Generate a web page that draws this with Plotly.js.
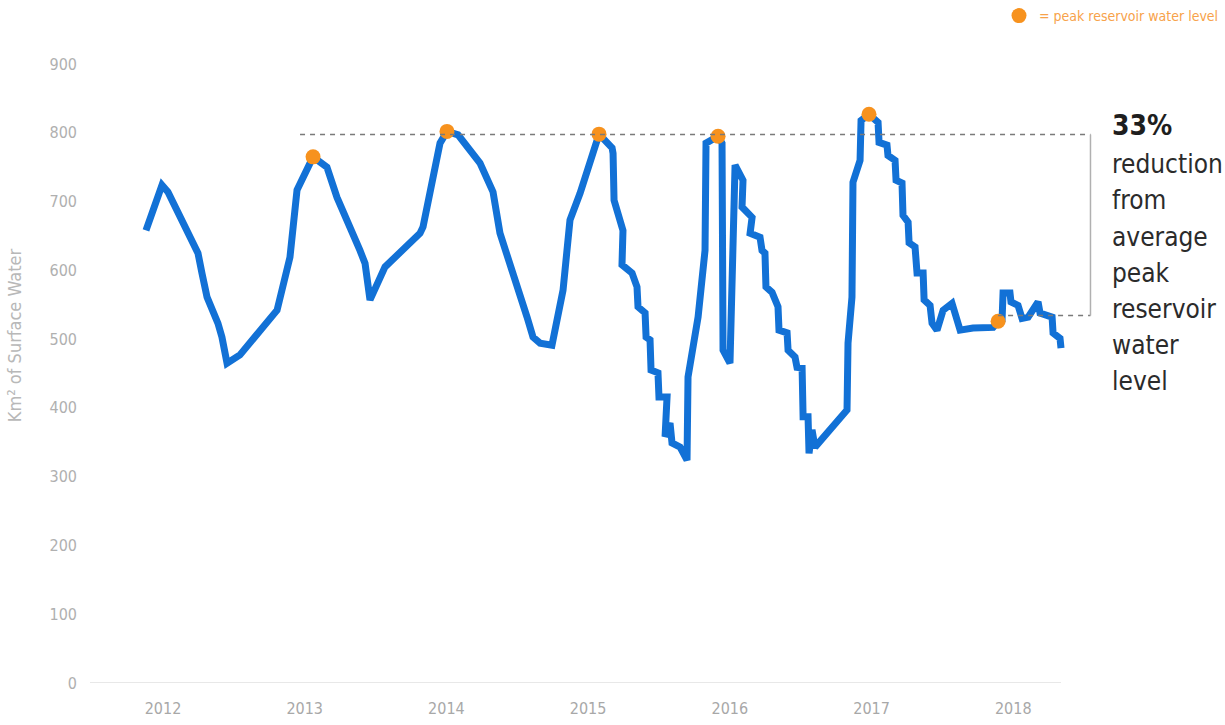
<!DOCTYPE html>
<html>
<head>
<meta charset="utf-8">
<script src="https://cdn.plot.ly/plotly-3.0.1.min.js"></script>
<style>
  html, body { margin: 0; padding: 0; background: #fff; }
  #chart { width: 1225px; height: 725px; }
</style>
</head>
<body>
<div id="chart"></div>
<script>
// Reservoir surface water, decimal years vs km²
const years = [
  2011.880, 2011.993, 2012.035, 2012.176, 2012.247, 2012.275, 2012.311, 2012.388, 2012.416, 2012.452,
  2012.543, 2012.805, 2012.896, 2012.946, 2012.988, 2013.059, 2013.157, 2013.228, 2013.390, 2013.426,
  2013.461, 2013.567, 2013.814, 2013.835, 2013.955, 2014.004, 2014.082, 2014.237, 2014.329, 2014.378,
  2014.569, 2014.611, 2014.661, 2014.745, 2014.823, 2014.872, 2014.943, 2015.063, 2015.077, 2015.169,
  2015.176, 2015.183, 2015.246, 2015.239, 2015.310, 2015.345, 2015.352, 2015.402, 2015.409, 2015.437,
  2015.444, 2015.493, 2015.500, 2015.557, 2015.543, 2015.578, 2015.592, 2015.649, 2015.698, 2015.705,
  2015.776, 2015.825, 2015.832, 2015.917, 2015.945, 2015.952, 2016.001, 2016.037, 2016.072, 2016.093,
  2016.086, 2016.157, 2016.143, 2016.213, 2016.227, 2016.248, 2016.255, 2016.298, 2016.340, 2016.347,
  2016.404, 2016.411, 2016.460, 2016.474, 2016.510, 2016.517, 2016.552, 2016.559, 2016.580, 2016.601,
  2016.827, 2016.834, 2016.862, 2016.869, 2016.919, 2016.926, 2016.982, 2017.046, 2017.053, 2017.109,
  2017.116, 2017.166, 2017.173, 2017.215, 2017.222, 2017.258, 2017.265, 2017.307, 2017.321, 2017.364,
  2017.371, 2017.413, 2017.427, 2017.462, 2017.505, 2017.568, 2017.625, 2017.716, 2017.858, 2017.893,
  2017.921, 2017.928, 2017.977, 2017.984, 2018.034, 2018.062, 2018.105, 2018.140, 2018.175, 2018.189,
  2018.274, 2018.281, 2018.330, 2018.337
];
const surfaceWater = [
  658, 724, 714, 658, 625, 596, 561, 523, 503, 465,
  477, 542, 619, 717, 734, 765, 750, 706, 629, 610,
  557, 605, 654, 663, 785, 802, 797, 756, 714, 654,
  532, 503, 494, 491, 571, 673, 712, 789, 798, 778,
  770, 702, 658, 608, 596, 576, 547, 538, 503, 499,
  455, 451, 416, 416, 358, 378, 349, 343, 324, 445,
  532, 629, 785, 795, 785, 484, 465, 753, 735, 731,
  692, 677, 654, 648, 629, 625, 576, 568, 547, 513,
  509, 484, 474, 459, 458, 387, 387, 334, 368, 343,
  397, 494, 561, 728, 760, 818, 827, 815, 786, 782,
  767, 760, 731, 727, 680, 670, 640, 634, 596, 596,
  557, 549, 523, 513, 542, 552, 513, 516, 517, 526,
  528, 567, 567, 554, 549, 530, 532, 542, 554, 538,
  532, 509, 501, 487
];

// Annual peak reservoir water levels
const peakYears = [2013.059, 2014.004, 2015.077, 2015.917, 2016.982, 2017.893];
const peakValues = [765, 802, 798, 795, 827, 526];

// Reduction of the latest peak against the average of the earlier peaks
const reductionPct = 33;
const noteLines = ['reduction', 'from', 'average', 'peak', 'reservoir', 'water', 'level'];
const yearTicks = [2012, 2013, 2014, 2015, 2016, 2017, 2018];
const yTicks = [0, 100, 200, 300, 400, 500, 600, 700, 800, 900];

const earlierPeaks = peakValues.slice(0, peakValues.length - 1);
const avgPeak = earlierPeaks.reduce((a, b) => a + b, 0) / earlierPeaks.length;
const reducedLevel = avgPeak * (1 - reductionPct / 100);

const narrow = '"Liberation Sans Narrow", "DejaVu Sans Condensed", "Roboto", sans-serif';
const bracketX = 2018.545;
const axisStart = 2011.485;
const axisEnd = years[years.length - 1];

// plot area geometry (pixels)
const W = 1225, H = 725;
const M = { l: 90, r: 110, t: 64, b: 42 };
const plotH = H - M.t - M.b;

const traces = [
  {
    x: years, y: surfaceWater, type: 'scatter', mode: 'lines',
    line: { color: '#1271d6', width: 7 },
    showlegend: false, hoverinfo: 'x+y'
  },
  {
    x: peakYears, y: peakValues, type: 'scatter', mode: 'markers',
    name: '= peak reservoir water level',
    marker: { color: '#f7921e', size: 15, line: { width: 0 } },
    showlegend: true
  }
];

// side note: bold percentage, then one line per word, about 36px apart
const noteTexts = ['<b>' + reductionPct + '%</b>'].concat(noteLines);
const noteAnnotations = noteTexts.map((t, i) => ({
  xref: 'x', yref: 'paper', x: 2018.683,
  y: 1 - ((i === 0 ? 107 : 111 + 36.2 * i) - M.t) / plotH,
  xanchor: 'left', yanchor: 'top', align: 'left', showarrow: false,
  text: t,
  font: { family: narrow, size: i === 0 ? 28 : 26, color: i === 0 ? '#1e1e1e' : '#2b2b2b' }
}));

const layout = {
  width: W, height: H,
  margin: { l: M.l, r: M.r, t: M.t, b: M.b, autoexpand: false },
  paper_bgcolor: '#ffffff', plot_bgcolor: '#ffffff',
  font: { family: narrow, color: '#b3b3b3' },
  showlegend: true,
  legend: {
    xref: 'container', yref: 'container',
    x: 1224 / W, xanchor: 'right', y: 1 - 0 / H, yanchor: 'top',
    orientation: 'h', itemwidth: 30,
    font: { family: narrow, size: 14, color: '#f7a24a' },
    bgcolor: 'rgba(0,0,0,0)'
  },
  xaxis: {
    range: [axisStart, 2018.718],
    tickmode: 'array', tickvals: yearTicks, ticktext: yearTicks.map(String),
    showgrid: false, zeroline: false, showline: false, ticks: '',
    ticklabelstandoff: 14,
    tickfont: { family: narrow, size: 16, color: '#a8a8a8' }
  },
  yaxis: {
    range: [0, 900],
    tickmode: 'array', tickvals: yTicks,
    showgrid: false, zeroline: false, showline: false, ticks: '',
    ticklabelstandoff: 12,
    tickfont: { family: narrow, size: 16, color: '#b0b0b0' }
  },
  shapes: [
    // baseline
    { type: 'line', xref: 'x', yref: 'y', x0: axisStart, x1: axisEnd, y0: 0, y1: 0,
      line: { color: '#d0d0d0', width: 1 } },
    // average peak level
    { type: 'line', xref: 'x', yref: 'y', x0: 2012.967, x1: bracketX, y0: avgPeak, y1: avgPeak,
      line: { color: '#7a7a7a', width: 1.5, dash: '5px,5px' } },
    // latest peak level
    { type: 'line', xref: 'x', yref: 'y', x0: peakYears[peakYears.length - 1], x1: bracketX, y0: reducedLevel, y1: reducedLevel,
      line: { color: '#7a7a7a', width: 1.5, dash: '5px,5px' } },
    // bracket joining both levels
    { type: 'line', xref: 'x', yref: 'y', x0: bracketX, x1: bracketX, y0: reducedLevel, y1: avgPeak,
      line: { color: '#b0b0b0', width: 1.5 } }
  ],
  annotations: noteAnnotations.concat([
    {
      // y-axis title
      xref: 'paper', yref: 'y', x: -0.073, y: 506, xanchor: 'center', yanchor: 'middle',
      textangle: -90, showarrow: false,
      text: 'Km² of Surface Water',
      font: { family: narrow, size: 18, color: '#b8b8b8' }
    }
  ])
};

Plotly.newPlot('chart', traces, layout, { displayModeBar: false, staticPlot: true });
</script>
</body>
</html>
